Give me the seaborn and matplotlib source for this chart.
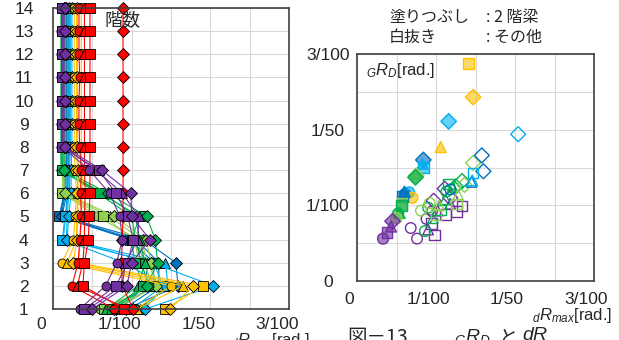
import numpy as np
import pandas as pd
import matplotlib
matplotlib.use("Agg")
import matplotlib.pyplot as plt
import matplotlib.transforms as mtransforms
import seaborn as sns

# ── データ ──────────────────────────────────────────────
floors = list(range(1, 15))
marker_names = ['o', '^', 's', 'D']

# 各色: 4系列 (o, ^, s, D)、1階〜14階の最大層間変形角 dRmax
red = [
    [0.0078, 0.0024, 0.0032, 0.0034, 0.0036, 0.0035, 0.0036, 0.0034, 0.0033, 0.0033, 0.0034, 0.0033, 0.0033, 0.0033],
    [0.0095, 0.0031, 0.0038, 0.0040, 0.0040, 0.0041, 0.0040, 0.0040, 0.0040, 0.0040, 0.0040, 0.0040, 0.0040, 0.0040],
    [0.0090, 0.0038, 0.0040, 0.0045, 0.0046, 0.0047, 0.0047, 0.0047, 0.0047, 0.0047, 0.0047, 0.0047, 0.0047, 0.0047],
    [0.0102, 0.0088, 0.0087, 0.0088, 0.0089, 0.0089, 0.0089, 0.0089, 0.0089, 0.0089, 0.0089, 0.0089, 0.0089, 0.0089],
]
orange = [
    [0.0105, 0.0150, 0.0011, 0.0026, 0.0028, 0.0030, 0.0028, 0.0027, 0.0027, 0.0027, 0.0027, 0.0027, 0.0027, 0.0027],
    [0.0107, 0.0165, 0.0018, 0.0030, 0.0030, 0.0032, 0.0031, 0.0030, 0.0030, 0.0030, 0.0030, 0.0030, 0.0030, 0.0030],
    [0.0143, 0.0191, 0.0032, 0.0035, 0.0036, 0.0037, 0.0037, 0.0036, 0.0036, 0.0036, 0.0036, 0.0036, 0.0036, 0.0036],
    [0.0149, 0.0178, 0.0026, 0.0030, 0.0032, 0.0031, 0.0032, 0.0031, 0.0031, 0.0031, 0.0031, 0.0031, 0.0031, 0.0031],
]
lightblue = [
    [0.0116, 0.0143, 0.0090, 0.0013, 0.0016, 0.0018, 0.0018, 0.0019, 0.0019, 0.0019, 0.0019, 0.0019, 0.0019, 0.0019],
    [0.0110, 0.0146, 0.0143, 0.0017, 0.0018, 0.0020, 0.0020, 0.0021, 0.0021, 0.0021, 0.0021, 0.0021, 0.0021, 0.0021],
    [0.0100, 0.0140, 0.0128, 0.0012, 0.0015, 0.0021, 0.0021, 0.0022, 0.0022, 0.0022, 0.0022, 0.0022, 0.0022, 0.0022],
    [0.0117, 0.0204, 0.0125, 0.0018, 0.0020, 0.0023, 0.0023, 0.0024, 0.0024, 0.0024, 0.0024, 0.0024, 0.0024, 0.0024],
]
blue = [
    [0.0085, 0.0118, 0.0120, 0.0100, 0.0009, 0.0015, 0.0016, 0.0017, 0.0017, 0.0017, 0.0017, 0.0017, 0.0017, 0.0017],
    [0.0090, 0.0134, 0.0135, 0.0105, 0.0010, 0.0016, 0.0017, 0.0018, 0.0018, 0.0018, 0.0018, 0.0018, 0.0018, 0.0018],
    [0.0080, 0.0128, 0.0128, 0.0098, 0.0008, 0.0014, 0.0015, 0.0016, 0.0016, 0.0016, 0.0016, 0.0016, 0.0016, 0.0016],
    [0.0093, 0.0159, 0.0156, 0.0115, 0.0011, 0.0018, 0.0019, 0.0020, 0.0020, 0.0020, 0.0020, 0.0020, 0.0020, 0.0020],
]
green = [
    [0.0070, 0.0122, 0.0112, 0.0105, 0.0100, 0.0057, 0.0010, 0.0010, 0.0010, 0.0010, 0.0010, 0.0010, 0.0010, 0.0010],
    [0.0068, 0.0108, 0.0117, 0.0110, 0.0105, 0.0064, 0.0011, 0.0011, 0.0011, 0.0011, 0.0011, 0.0011, 0.0011, 0.0011],
    [0.0075, 0.0115, 0.0104, 0.0100, 0.0110, 0.0060, 0.0012, 0.0012, 0.0012, 0.0012, 0.0012, 0.0012, 0.0012, 0.0012],
    [0.0078, 0.0119, 0.0133, 0.0130, 0.0119, 0.0070, 0.0014, 0.0014, 0.0014, 0.0014, 0.0014, 0.0014, 0.0014, 0.0014],
]
lightgreen = [
    [0.0060, 0.0128, 0.0115, 0.0108, 0.0056, 0.0012, 0.0012, 0.0013, 0.0013, 0.0013, 0.0013, 0.0013, 0.0013, 0.0013],
    [0.0072, 0.0134, 0.0120, 0.0112, 0.0072, 0.0013, 0.0013, 0.0014, 0.0014, 0.0014, 0.0014, 0.0014, 0.0014, 0.0014],
    [0.0065, 0.0125, 0.0110, 0.0103, 0.0064, 0.0012, 0.0014, 0.0015, 0.0015, 0.0015, 0.0015, 0.0015, 0.0015, 0.0015],
    [0.0080, 0.0131, 0.0125, 0.0118, 0.0078, 0.0015, 0.0015, 0.0016, 0.0016, 0.0016, 0.0016, 0.0016, 0.0016, 0.0016],
]
purple = [
    [0.0034, 0.0067, 0.0081, 0.0088, 0.0085, 0.0072, 0.0046, 0.0012, 0.0012, 0.0012, 0.0012, 0.0012, 0.0012, 0.0012],
    [0.0045, 0.0088, 0.0092, 0.0108, 0.0109, 0.0088, 0.0055, 0.0013, 0.0013, 0.0013, 0.0013, 0.0013, 0.0013, 0.0013],
    [0.0040, 0.0080, 0.0095, 0.0102, 0.0095, 0.0080, 0.0058, 0.0011, 0.0011, 0.0011, 0.0011, 0.0011, 0.0011, 0.0011],
    [0.0050, 0.0094, 0.0100, 0.0123, 0.0100, 0.0099, 0.0062, 0.0015, 0.0015, 0.0015, 0.0015, 0.0015, 0.0015, 0.0015],
]

# 右図: 塗りつぶし (2階梁)
fill_colors = ['orange', 'orange', 'lightblue', 'orange', 'blue', 'lightblue', 'lightblue', 'lightgreen',
               'lightgreen', 'green', 'blue', 'lightblue', 'orange', 'blue', 'blue', 'lightgreen', 'green',
               'green', 'green', 'lightgreen', 'purple', 'purple', 'purple', 'purple']
fill_markers = ['s', 'D', 'D', '^', 'D', 's', '^', 'D',
                '^', 'D', 'o', 'o', 'o', 's', '^', 's', 's',
                '^', 'o', 'o', 'D', '^', 's', 'o']
fill_x = [0.0141, 0.0147, 0.0116, 0.0106, 0.0084, 0.0084, 0.0083, 0.0075,
          0.0075, 0.0074, 0.0061, 0.0066, 0.0070, 0.0058, 0.0060, 0.0057, 0.0056,
          0.0054, 0.0052, 0.0050, 0.0045, 0.0043, 0.0038, 0.0033]
fill_y = [0.0288, 0.0243, 0.0211, 0.0177, 0.0160, 0.0150, 0.0155, 0.0139,
          0.0142, 0.0137, 0.0115, 0.0117, 0.0110, 0.0112, 0.0118, 0.0103, 0.0100,
          0.0090, 0.0089, 0.0083, 0.0079, 0.0072, 0.0064, 0.0056]

# 右図: 白抜き (その他)
open_colors = ['purple'] * 15 + ['green'] * 10 + ['lightgreen'] * 8 + ['blue'] * 4 + ['lightblue'] * 3
open_markers = ['o', 'o', 'o', 'o', 's', 's', 's', 's', 's', '^', '^', '^', 'D', 'D', 'D',
                'o', 'o', 'o', '^', '^', '^', 's', 's', 'D', 'D',
                'o', 'o', '^', '^', 's', 's', 'D', 'D',
                'o', '^', 'D', 'D',
                's', '^', 'D']
open_x = [0.0068, 0.0076, 0.0088, 0.0095, 0.0098, 0.0094, 0.0112, 0.0126, 0.0133, 0.0090, 0.0102, 0.0118, 0.0097, 0.0118, 0.0111,
          0.0086, 0.0090, 0.0113, 0.0096, 0.0112, 0.0121, 0.0106, 0.0116, 0.0125, 0.0133,
          0.0081, 0.0092, 0.0104, 0.0128, 0.0100, 0.0126, 0.0136, 0.0147,
          0.0118, 0.0145, 0.0158, 0.0160,
          0.0147, 0.0146, 0.0204]
open_y = [0.0070, 0.0056, 0.0082, 0.0092, 0.0061, 0.0076, 0.0088, 0.0092, 0.0099, 0.0068, 0.0093, 0.0102, 0.0106, 0.0110, 0.0122,
          0.0066, 0.0097, 0.0118, 0.0083, 0.0108, 0.0124, 0.0094, 0.0128, 0.0125, 0.0132,
          0.0093, 0.0103, 0.0100, 0.0114, 0.0088, 0.0102, 0.0127, 0.0156,
          0.0121, 0.0131, 0.0166, 0.0145,
          0.0143, 0.0133, 0.0194]

tick_vals = [0, 0.005, 0.01, 0.015, 0.02, 0.025, 0.03]
tick_labels = ['0', '', '1/100', '', '1/50', '', '3/100']

palette = {'red': '#FF0000', 'orange': '#FFC000', 'lightblue': '#00B0F0', 'blue': '#0070C0',
           'green': '#00B050', 'lightgreen': '#92D050', 'purple': '#7030A0'}

# ── 表の組み立て ─────────────────────────────────────────
rows = []
groups = [('blue', blue), ('lightblue', lightblue), ('lightgreen', lightgreen), ('green', green),
          ('orange', orange), ('red', red), ('purple', purple)]
for cname, arr in groups:
    for m, vals in zip(marker_names, arr):
        for f, v in zip(floors, vals):
            rows.append({'series': f'{cname}_{m}', 'color': cname, 'marker': m, 'floor': f, 'drift': v})
df_left = pd.DataFrame(rows)
series_order = list(dict.fromkeys(df_left['series']))
pal_series = {s: palette[s.split('_')[0]] for s in series_order}
mk_series = {s: s.split('_')[1] for s in series_order}

df_fill = pd.DataFrame({'x': fill_x, 'y': fill_y, 'color': fill_colors, 'marker': fill_markers})
df_open = pd.DataFrame({'x': open_x, 'y': open_y, 'color': open_colors, 'marker': open_markers})

# ── スタイル ────────────────────────────────────────────
sns.set_style('whitegrid', {'grid.color': '#D9D9D9', 'axes.edgecolor': '#000000'})
plt.rcParams['font.family'] = ['Liberation Sans', 'Noto Sans CJK JP', 'DejaVu Sans']
plt.rcParams['mathtext.fontset'] = 'custom'
plt.rcParams['mathtext.rm'] = 'Liberation Sans'
plt.rcParams['mathtext.it'] = 'Liberation Sans:italic'

fig = plt.figure(figsize=(6.19, 3.4), dpi=100)
W, H = 619, 340
ax1 = fig.add_axes([53 / W, 1 - 309 / H, 236 / W, 301 / H])
ax2 = fig.add_axes([357 / W, 1 - 281 / H, 237 / W, 227 / H])

# ── 左図: 階数 vs dRmax ─────────────────────────────────
sns.lineplot(data=df_left, x='drift', y='floor', hue='series', style='series',
             hue_order=series_order, style_order=series_order,
             palette=pal_series, markers=mk_series, dashes=False, sort=False,
             estimator=None, legend=False, linewidth=0.8, markersize=6.5,
             markeredgecolor='black', markeredgewidth=0.6, clip_on=False, ax=ax1)
ax1.set_xlim(0, 0.03)
ax1.set_ylim(1, 14)
ax1.set_yticks(floors)
ax1.set_yticklabels([str(f) for f in floors])

# ── 右図: GRD vs dRmax ──────────────────────────────────
mk_map = {m: m for m in marker_names}
sns.scatterplot(data=df_open, x='x', y='y', hue='color', style='marker', palette=palette,
                markers=mk_map, s=58, linewidth=1.0, legend=False, ax=ax2)
coll = ax2.collections[-1]
ec = coll.get_facecolors().copy()
coll.set_edgecolors(ec)
coll.set_facecolors('none')

sns.scatterplot(data=df_fill, x='x', y='y', hue='color', style='marker', palette=palette,
                markers=mk_map, s=62, linewidth=1.0, legend=False, ax=ax2)
coll = ax2.collections[-1]
fc = coll.get_facecolors().copy()
coll.set_edgecolors(fc.copy())
fc[:, 3] = 0.6
coll.set_facecolors(fc)

ax2.set_xlim(0, 0.03)
ax2.set_ylim(0, 0.03)
ax2.set_yticks(tick_vals)
ax2.set_yticklabels(tick_labels)

for ax, dx in [(ax1, -12), (ax2, -8)]:
    ax.set_xticks(tick_vals)
    ax.set_xticklabels(tick_labels)
    ax.set_xlabel('')
    ax.set_ylabel('')
    ax.grid(True, color='#D9D9D9', linewidth=0.8)
    ax.set_axisbelow(True)
    for sp in ax.spines.values():
        sp.set_visible(True)
        sp.set_color('#404040')
        sp.set_linewidth(1.2)
    ax.tick_params(axis='both', length=0, labelsize=12.5)
    ax.tick_params(axis='y', pad=21)
    ax.tick_params(axis='x', pad=6 if ax is ax1 else 8)
    for lab in ax.get_yticklabels():
        lab.set_horizontalalignment('center')
    off = mtransforms.ScaledTranslation(dx / 100, 0, fig.dpi_scale_trans)
    for lab in ax.get_xticklabels():
        lab.set_transform(lab.get_transform() + off)

# ── テキスト ─────────────────────────────────────────────
jp = ['Noto Sans CJK JP', 'DejaVu Sans']
fig.text(104 / W, 1 - 11 / H, '階数', fontsize=13, family=jp, va='top', ha='left')
fig.text(389 / W, 1 - 9 / H, '塗りつぶし', fontsize=11.5, family=jp, va='top', ha='left')
fig.text(486 / W, 1 - 9 / H, ': 2 階梁', fontsize=11.5, family=jp, va='top', ha='left')
fig.text(389 / W, 1 - 29 / H, '白抜き', fontsize=11.5, family=jp, va='top', ha='left')
fig.text(486 / W, 1 - 29 / H, ': その他', fontsize=11.5, family=jp, va='top', ha='left')
fig.text(366 / W, 1 - 71 / H, r'$_{G}R_{D}$[rad.]', fontsize=12, va='center', ha='left')
fig.text(310 / W, 1 - 331 / H, r'$_{d}R_{max}$[rad.]', fontsize=12, va='top', ha='right')
fig.text(612 / W, 1 - 306 / H, r'$_{d}R_{max}$[rad.]', fontsize=12, va='top', ha='right')
fig.text(347 / W, 1 - 327 / H, '図－13', fontsize=14, family=jp, va='top', ha='left')
fig.text(454 / W, 1 - 327 / H, r'$_{G}R_{D}$', fontsize=14, va='top', ha='left')
fig.text(498 / W, 1 - 327 / H, 'と', fontsize=14, family=jp, va='top', ha='left')
fig.text(522 / W, 1 - 327 / H, r'$dR$', fontsize=14, va='top', ha='left')

fig.savefig('out.png', dpi=100)
